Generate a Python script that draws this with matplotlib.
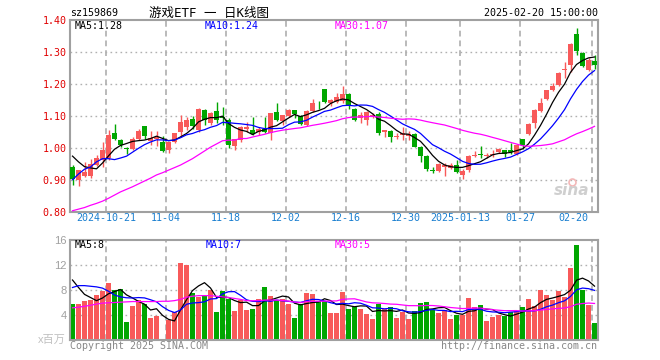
import matplotlib
matplotlib.use("Agg")
import matplotlib.pyplot as plt
import numpy as np
import pandas as pd

# ---- data (88 trading days, 2024-10-11 .. 2025-02-20) ----
opens = [0.941, 0.899, 0.913, 0.913, 0.946, 0.961, 0.967, 1.045, 1.024, 1.000,
         0.996, 1.027, 1.068, 1.022, 1.026, 1.017, 0.993, 1.017, 1.048, 1.066,
         1.089, 1.055, 1.118, 1.077, 1.115, 1.097, 1.086, 1.005, 1.024, 1.058,
         1.055, 1.050, 1.058, 1.045, 1.112, 1.084, 1.099, 1.118, 1.099, 1.071,
         1.115, 1.147, 1.183, 1.141, 1.144, 1.146, 1.168, 1.123, 1.092, 1.086,
         1.097, 1.107, 1.050, 1.052, 1.033, 1.040, 1.036, 1.042, 1.003, 0.975,
         0.930, 0.927, 0.941, 0.938, 0.946, 0.915, 0.930, 0.974, 0.979, 0.974,
         0.977, 0.988, 0.993, 0.993, 0.982, 1.026, 1.043, 1.078, 1.116, 1.152,
         1.180, 1.196, 1.243, 1.260, 1.357, 1.298, 1.243, 1.271]
highs = [0.946, 0.930, 0.955, 0.964, 0.977, 1.019, 1.055, 1.076, 1.029, 1.003,
         1.034, 1.060, 1.068, 1.052, 1.052, 1.037, 1.019, 1.047, 1.102, 1.095,
         1.099, 1.125, 1.120, 1.112, 1.144, 1.128, 1.092, 1.029, 1.068, 1.080,
         1.097, 1.064, 1.097, 1.110, 1.139, 1.104, 1.123, 1.118, 1.102, 1.118,
         1.154, 1.147, 1.183, 1.154, 1.170, 1.194, 1.172, 1.125, 1.112, 1.114,
         1.108, 1.112, 1.057, 1.055, 1.047, 1.064, 1.053, 1.045, 1.005, 0.977,
         0.941, 0.951, 0.951, 0.953, 0.961, 0.935, 0.977, 0.991, 1.005, 0.984,
         0.993, 0.998, 0.993, 1.016, 1.011, 1.029, 1.078, 1.120, 1.157, 1.182,
         1.203, 1.237, 1.269, 1.328, 1.374, 1.300, 1.282, 1.290]
lows = [0.885, 0.881, 0.910, 0.906, 0.944, 0.941, 0.961, 1.024, 1.003, 0.980,
        0.993, 1.024, 1.029, 1.008, 1.006, 0.988, 0.984, 1.014, 1.034, 1.055,
        1.060, 1.050, 1.071, 1.071, 1.078, 1.071, 0.998, 0.993, 1.019, 1.050,
        1.040, 1.040, 1.045, 1.024, 1.083, 1.071, 1.097, 1.092, 1.071, 1.068,
        1.112, 1.120, 1.139, 1.131, 1.139, 1.141, 1.120, 1.083, 1.077, 1.071,
        1.092, 1.040, 1.034, 1.019, 1.029, 1.024, 1.024, 1.001, 0.956, 0.928,
        0.920, 0.925, 0.913, 0.934, 0.920, 0.901, 0.925, 0.970, 0.967, 0.967,
        0.970, 0.983, 0.972, 0.982, 0.977, 0.995, 1.040, 1.063, 1.113, 1.149,
        1.177, 1.194, 1.220, 1.238, 1.290, 1.253, 1.241, 1.246]
closes = [0.902, 0.929, 0.925, 0.948, 0.967, 0.993, 1.040, 1.029, 1.008, 0.997,
          1.026, 1.052, 1.038, 1.032, 1.034, 0.991, 1.017, 1.047, 1.081, 1.088,
          1.068, 1.122, 1.087, 1.108, 1.086, 1.092, 1.008, 1.026, 1.066, 1.065,
          1.042, 1.058, 1.050, 1.108, 1.088, 1.102, 1.118, 1.106, 1.074, 1.116,
          1.141, 1.145, 1.142, 1.149, 1.159, 1.168, 1.131, 1.086, 1.102, 1.112,
          1.102, 1.045, 1.055, 1.034, 1.037, 1.045, 1.042, 1.003, 0.974, 0.935,
          0.928, 0.949, 0.946, 0.946, 0.925, 0.928, 0.975, 0.977, 0.977, 0.979,
          0.982, 0.996, 0.982, 0.988, 1.008, 1.008, 1.076, 1.118, 1.141, 1.180,
          1.194, 1.235, 1.246, 1.326, 1.303, 1.256, 1.276, 1.260]
volumes = [5.76, 5.76, 6.29, 6.45, 7.2, 7.89, 9.17, 8.0, 8.16, 2.88,
           5.44, 6.4, 5.76, 3.52, 3.89, 0.16, 3.2, 4.48, 12.32, 12.0,
           7.52, 6.93, 7.09, 8.05, 4.48, 7.79, 6.56, 4.69, 6.4, 4.85,
           5.01, 6.56, 8.48, 7.09, 6.45, 6.56, 5.81, 3.52, 5.76, 7.52,
           7.36, 6.19, 6.19, 4.32, 4.32, 7.68, 5.01, 5.28, 5.01, 4.16,
           3.36, 5.76, 4.96, 5.28, 3.52, 4.48, 3.36, 4.64, 5.92, 6.08,
           4.85, 4.32, 4.85, 3.41, 4.0, 3.95, 6.72, 5.28, 5.6, 3.09,
           3.68, 4.0, 3.9, 4.48, 4.59, 5.28, 6.56, 5.44, 8.0, 7.2,
           6.4, 7.84, 6.88, 11.52, 15.2, 8.05, 5.6, 2.72]

# moving-average values at the left edge (window reaches before the first day shown)
ma5_head = [0.974, 0.956, 0.941, 0.937]
ma10_head = [0.900, 0.918, 0.933, 0.940, 0.956, 0.966, 0.966, 0.963, 0.968]
ma30_head = [0.803, 0.808, 0.813, 0.820, 0.826, 0.833, 0.842, 0.852, 0.862, 0.870,
             0.878, 0.887, 0.896, 0.905, 0.915, 0.922, 0.930, 0.938, 0.946, 0.956,
             0.966, 0.978, 0.990, 1.002, 1.012, 1.022, 1.024, 1.024, 1.029]
vma5_head = [9.6, 8.4, 7.3, 6.8]
vma10_head = [8.4, 8.7, 8.7, 8.6, 8.5, 8.3, 7.8, 7.2, 6.9]
vma30_head = [5.15, 5.25, 5.4, 5.55, 5.75, 5.9, 5.95, 6.0, 6.05, 6.1,
              6.15, 6.15, 6.15, 6.15, 6.15, 6.2, 6.2, 6.3, 6.5, 6.85,
              7.0, 7.1, 7.1, 7.1, 7.0, 6.9, 6.8, 6.65, 6.5]

date_labels = ["2024-10-21", "11-04", "11-18", "12-02", "12-16",
               "12-30", "2025-01-13", "01-27", "02-20"]
date_index = [6, 16, 26, 36, 46, 56, 65, 75, 87]

code = "sz159869"
title = "游戏ETF 一 日K线图"
stamp = "2025-02-20 15:00:00"


def ma(vals, n, head):
    s = pd.Series(vals).rolling(n).mean().to_numpy()
    s[:n - 1] = head
    return s


RED = "#f85a5a"
GREEN = "#00a600"
MAG = "#ff00ff"
BLUE = "#0000ff"
MONO = ["DejaVu Sans Mono", "Noto Sans CJK SC"]

W, H = 660, 360
fig = plt.figure(figsize=(6.6, 3.6), dpi=100)
fig.patch.set_facecolor("white")


def fx(px):
    return px / W


def fy(py):
    return 1 - py / H


L, R = 70, 597.7
ax1 = fig.add_axes([fx(L), fy(211.7), (R - L) / W, (211.7 - 20) / H])
ax2 = fig.add_axes([fx(L), fy(340), (R - L) / W, 100 / H])

x = np.arange(len(closes))
o = np.array(opens)
c = np.array(closes)
up = c >= o
cols = [RED if u else GREEN for u in up]

for ax in (ax1, ax2):
    ax.set_xlim(-0.417, 87.53)
    for sp in ax.spines.values():
        sp.set_color("#a0a0a0")
        sp.set_linewidth(1.5)
    ax.set_xticks([])
    ax.tick_params(axis="y", length=0)
    for i in date_index:
        ax.axvline(i - 0.42, color="#b4b4b4", lw=1.3, ls=(0, (3.2, 2.2)), zorder=0)

# price panel
ax1.set_ylim(0.80, 1.40)
for yv in [0.9, 1.0, 1.1, 1.2, 1.3]:
    ax1.axhline(yv, color="#b0b0b0", lw=1.0, ls=(0, (1.2, 2.4)), zorder=0)
ax1.vlines(x, lows, highs, colors=cols, lw=1.0, zorder=2)
body_h = np.maximum(np.abs(c - o), 0.0025)
ax1.bar(x, body_h, bottom=np.minimum(o, c), width=0.84, color=cols, zorder=3)
ax1.plot(x, ma(closes, 5, ma5_head), color="black", lw=0.9, zorder=4)
ax1.plot(x, ma(closes, 10, ma10_head), color=BLUE, lw=0.9, zorder=4)
ax1.plot(x, ma(closes, 30, ma30_head), color=MAG, lw=0.9, zorder=4)
ax1.set_yticks([0.8, 0.9, 1.0, 1.1, 1.2, 1.3, 1.4])
ax1.set_yticklabels(["%.2f" % v for v in [0.8, 0.9, 1.0, 1.1, 1.2, 1.3, 1.4]],
                    color="#e00000", fontsize=7.2, family="DejaVu Sans Mono")
ax1.tick_params(axis="y", pad=2.5)

for lab, i in zip(date_labels, date_index):
    xx = i - 0.42
    ha = "center"
    if i == date_index[-1]:
        xx, ha = 85.9, "right"
    ax1.text(xx, -0.035, lab, transform=ax1.get_xaxis_transform(), ha=ha, va="center",
             color="#1a7fd0", fontsize=7.2, family="DejaVu Sans Mono")

m5 = ma(closes, 5, ma5_head)[-1]
m10 = ma(closes, 10, ma10_head)[-1]
m30 = ma(closes, 30, ma30_head)[-1]
fig.text(fx(75), fy(26), "MA5:%.2f" % m5, color="black", fontsize=7.2, family=MONO, va="center")
fig.text(fx(204.3), fy(26), "MA10:%.2f" % m10, color=BLUE, fontsize=7.2, family=MONO, va="center")
fig.text(fx(334.7), fy(26), "MA30:%.2f" % m30, color=MAG, fontsize=7.2, family=MONO, va="center")

# sina watermark
ax1.text(0.985, 0.07, "sina", transform=ax1.transAxes, ha="right", va="bottom",
         fontsize=11, style="italic", weight="bold", color="#cfcfcf", family="DejaVu Sans")
ax1.plot([0.952], [0.155], transform=ax1.transAxes, marker="o", ms=5, mfc="none",
         mec="#f3b8b8", mew=1.2)

# volume panel
ax2.set_ylim(0, 16)
for yv in [4, 8, 12]:
    ax2.axhline(yv, color="#b0b0b0", lw=1.0, ls=(0, (1.2, 2.4)), zorder=0)
ax2.bar(x, volumes, width=0.84, color=cols, zorder=2)
ax2.plot(x, ma(volumes, 5, vma5_head), color="black", lw=0.9, zorder=4)
ax2.plot(x, ma(volumes, 10, vma10_head), color=BLUE, lw=0.9, zorder=4)
ax2.plot(x, ma(volumes, 30, vma30_head), color=MAG, lw=0.9, zorder=4)
ax2.set_yticks([4, 8, 12, 16])
ax2.set_yticklabels(["4", "8", "12", "16"], color="#a0a0a0", fontsize=8,
                    family="Liberation Sans")
ax2.tick_params(axis="y", pad=2.5)
fig.text(fx(66), fy(340), "x百万", ha="right", va="center", color="#c0c0c0",
         fontsize=8, family=["Liberation Sans", "Noto Sans CJK SC"])

v5 = ma(volumes, 5, vma5_head)[-1]
v10 = ma(volumes, 10, vma10_head)[-1]
v30 = ma(volumes, 30, vma30_head)[-1]
fig.text(fx(75), fy(245.5), "MA5:%d" % int(v5), color="black", fontsize=7.2, family=MONO, va="center")
fig.text(fx(205.3), fy(245.5), "MA10:%d" % int(v10), color=BLUE, fontsize=7.2, family=MONO, va="center")
fig.text(fx(334.7), fy(245.5), "MA30:%d" % int(v30), color=MAG, fontsize=7.2, family=MONO, va="center")

# header / footer
fig.text(fx(70), fy(13), code, fontsize=7.2, family=MONO, va="center")
fig.text(fx(209), fy(13), title, fontsize=9, family=MONO, va="center", ha="center")
fig.text(fx(597.7), fy(13), stamp, fontsize=7.2, family=MONO, va="center", ha="right")
fig.text(fx(70), fy(346), "Copyright 2025 SINA.COM", fontsize=7.2, family=MONO,
         va="center", color="#888888")
fig.text(fx(597), fy(346), "http://finance.sina.com.cn", fontsize=7.2, family=MONO,
         va="center", ha="right", color="#888888")

fig.savefig("out.png", dpi=100)
